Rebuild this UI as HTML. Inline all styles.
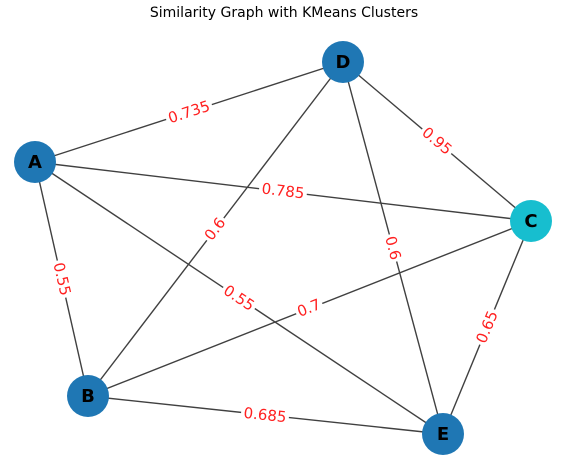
<!DOCTYPE html>
<html><head><meta charset="utf-8"><style>
html,body{margin:0;padding:0;background:#fff;}
svg{display:block;}
</style></head><body>
<svg width="567" height="466" viewBox="0 0 567 466" xmlns="http://www.w3.org/2000/svg" font-family="DejaVu Sans, Liberation Sans, sans-serif">
<rect width="567" height="466" fill="#fff"/>
<text x="284" y="17" text-anchor="middle" font-size="14" fill="#000">Similarity Graph with KMeans Clusters</text>
<g stroke="#404040" stroke-width="1.4">
<line x1="35" y1="162" x2="343" y2="62"/>
<line x1="35" y1="162" x2="531" y2="221"/>
<line x1="35" y1="162" x2="88" y2="396"/>
<line x1="35" y1="162" x2="443" y2="434"/>
<line x1="343" y1="62" x2="88" y2="396"/>
<line x1="343" y1="62" x2="443" y2="434"/>
<line x1="343" y1="62" x2="531" y2="221"/>
<line x1="531" y1="221" x2="88" y2="396"/>
<line x1="531" y1="221" x2="443" y2="434"/>
<line x1="88" y1="396" x2="443" y2="434"/>
</g>
<g font-size="15" fill="#ff2020" text-anchor="middle">
<g transform="translate(189,112) rotate(-18)"><rect x="-24" y="-10" width="48" height="19" fill="#fff"/><text y="5">0.735</text></g>
<g transform="translate(283,191) rotate(6.8)"><rect x="-24" y="-10" width="48" height="19" fill="#fff"/><text y="5">0.785</text></g>
<g transform="translate(62,279) rotate(77)"><rect x="-19" y="-10" width="38" height="19" fill="#fff"/><text y="5">0.55</text></g>
<g transform="translate(239,298) rotate(33.7)"><rect x="-19" y="-10" width="38" height="19" fill="#fff"/><text y="5">0.55</text></g>
<g transform="translate(215,229) rotate(-52.6)"><rect x="-14" y="-10" width="28" height="19" fill="#fff"/><text y="5">0.6</text></g>
<g transform="translate(393,248) rotate(75)"><rect x="-14" y="-10" width="28" height="19" fill="#fff"/><text y="5">0.6</text></g>
<g transform="translate(437,141) rotate(40.2)"><rect x="-19" y="-10" width="38" height="19" fill="#fff"/><text y="5">0.95</text></g>
<g transform="translate(309,308) rotate(-21.6)"><rect x="-14" y="-10" width="28" height="19" fill="#fff"/><text y="5">0.7</text></g>
<g transform="translate(487,327) rotate(-67.5)"><rect x="-19" y="-10" width="38" height="19" fill="#fff"/><text y="5">0.65</text></g>
<g transform="translate(265,415) rotate(6.1)"><rect x="-24" y="-10" width="48" height="19" fill="#fff"/><text y="5">0.685</text></g>
</g>
<g>
<circle cx="35" cy="162" r="21" fill="#1f77b4"/>
<circle cx="343" cy="62" r="21" fill="#1f77b4"/>
<circle cx="531" cy="221" r="21" fill="#17becf"/>
<circle cx="88" cy="396" r="21" fill="#1f77b4"/>
<circle cx="443" cy="434" r="21" fill="#1f77b4"/>
</g>
<g font-size="18" font-weight="bold" fill="#000" text-anchor="middle">
<text x="35" y="168">A</text>
<text x="343" y="68">D</text>
<text x="531" y="227">C</text>
<text x="88" y="402">B</text>
<text x="443" y="440">E</text>
</g>
</svg>
</body></html>
